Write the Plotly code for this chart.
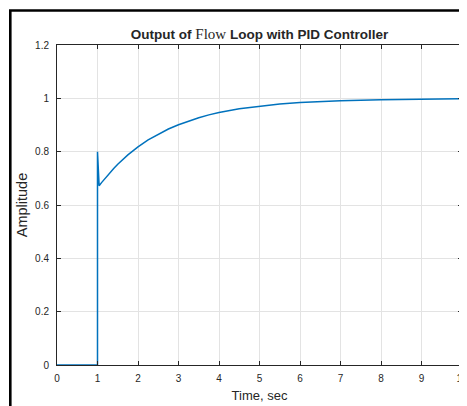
import plotly.graph_objects as go

# Step response
time_s = [0, 1, 1, 1.04, 1.1, 1.2, 1.3, 1.4, 1.5, 1.625, 1.75, 1.875, 2, 2.25, 2.5,
          2.75, 3, 3.25, 3.5, 3.75, 4, 4.5, 5, 5.5, 6, 7, 8, 9, 10]
amplitude = [0, 0, 0.8, 0.672, 0.684, 0.703, 0.720, 0.737, 0.753, 0.771, 0.788,
             0.803, 0.818, 0.844, 0.866, 0.885, 0.901, 0.915, 0.927, 0.938,
             0.947, 0.961, 0.971, 0.979, 0.984, 0.991, 0.995, 0.998, 0.999]

x_ticks = list(range(0, 11))
y_ticks = [0, 0.2, 0.4, 0.6, 0.8, 1.0, 1.2]
y_tick_labels = ["0", "0.2", "0.4", "0.6", "0.8", "1", "1.2"]

# page body has an 8px margin, so the figure is offset by 8px in the window
W, H = 475, 398
L, R, T, B = 49, 21, 37, 41
pw, ph = W - L - R, H - T - B

def px_to_paper_x(px):
    return (px - L) / pw

def py_to_paper_y(py):
    return (H - B - py) / ph

fig = go.Figure()
fig.add_trace(go.Scatter(x=time_s, y=amplitude, mode="lines",
                         line=dict(color="#0072BD", width=1.5),
                         hoverinfo="skip", showlegend=False))

axis_common = dict(showgrid=True, gridcolor="#e3e3e3", gridwidth=1,
                   zeroline=False, showline=True, linecolor="#262626",
                   linewidth=1, mirror="ticks", ticks="inside", ticklen=4,
                   tickcolor="#262626", automargin=False,
                   ticklabeloverflow="allow",
                   tickfont=dict(family="Liberation Sans", size=10, color="#262626"))

fig.update_layout(
    width=W, height=H,
    margin=dict(l=L, r=R, t=T, b=B),
    paper_bgcolor="white", plot_bgcolor="white",
    title=dict(text="<b>Output of </b><span style='font-family:Liberation Serif;font-size:15px'>Flow</span><b> Loop with PID Controller</b>",
               x=0.5, xanchor="center", xref="paper",
               y=1 - 26 / H, yanchor="middle", yref="container",
               font=dict(family="Liberation Sans", size=13.5, color="#262626")),
    xaxis=dict(range=[0, 10], tickvals=x_ticks, ticklabelstandoff=4,
               title=dict(text="Time, sec", standoff=7,
                          font=dict(family="Liberation Sans", size=13, color="#262626")),
               **axis_common),
    yaxis=dict(range=[0, 1.2], tickvals=y_ticks, ticktext=y_tick_labels,
               ticklabelstandoff=5,
               title=dict(text="Amplitude", standoff=4,
                          font=dict(family="Liberation Sans", size=14.5, color="#262626")),
               **axis_common),
)

# Black outer frame (cropped picture border)
fig.add_shape(type="line", xref="paper", yref="paper",
              x0=px_to_paper_x(2.3), x1=px_to_paper_x(2.3),
              y0=py_to_paper_y(2.5), y1=py_to_paper_y(H + 2),
              line=dict(color="black", width=2.6))
fig.add_shape(type="line", xref="paper", yref="paper",
              x0=px_to_paper_x(1), x1=px_to_paper_x(W + 2),
              y0=py_to_paper_y(2.5), y1=py_to_paper_y(2.5),
              line=dict(color="black", width=2.6))

fig.write_html("out.html")
